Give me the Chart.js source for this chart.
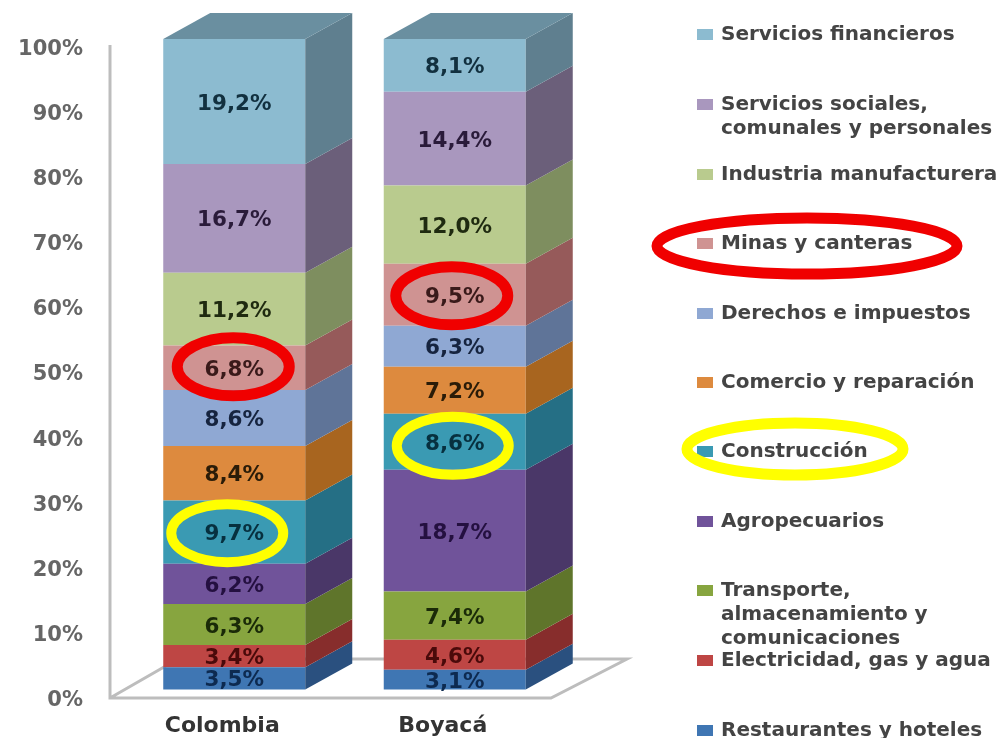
<!DOCTYPE html>
<html>
<head>
<meta charset="utf-8">
<title>Colombia y Boyacá</title>
<script src="https://cdn.jsdelivr.net/npm/chart.js@4"></script>
<style>
    html, body { margin: 0; padding: 0; background: #fff; }
    canvas { display: block; filter: blur(0.7px); }
</style>
</head>
<body>
<canvas id="myChart" width="1000" height="738"></canvas>
<script>
// Data, bottom of the stack first
const categories = ['Colombia', 'Boyacá'];
const seriesNames = ['Restaurantes y hoteles', 'Electricidad, gas y agua', 'Transporte, almacenamiento y comunicaciones',
    'Agropecuarios', 'Construcción', 'Comercio y reparación', 'Derechos e impuestos', 'Minas y canteras',
    'Industria manufacturera', 'Servicios sociales, comunales y personales', 'Servicios financieros'];
const colombiaValues = [3.5, 3.4, 6.3, 6.2, 9.7, 8.4, 8.6, 6.8, 11.2, 16.7, 19.2];
const boyacaValues = [3.1, 4.6, 7.4, 18.7, 8.6, 7.2, 6.3, 9.5, 12.0, 14.4, 8.1];
const yTickLabels = ['0%', '10%', '20%', '30%', '40%', '50%', '60%', '70%', '80%', '90%', '100%'];

// Colours per series
const frontColors = ['#3F76B3', '#BE4644', '#87A53F', '#70539A', '#3A9AB3', '#DD8A3E', '#8FA8D3', '#CF9392', '#B9CB8E', '#A997BE', '#8CBBD0'];
const sideColors = ['#2A507F', '#872D2C', '#5F752B', '#4A3768', '#256F85', '#A8651F', '#5F7498', '#965A5A', '#7E8E5F', '#6B5F7A', '#5F7F8F'];
const textColors = ['#0D2A50', '#4A0A0A', '#1A2A08', '#241040', '#07303F', '#2A1C08', '#16243F', '#3A1A1A', '#1F2A10', '#2A1B3A', '#12303F'];
const topColor = '#6A8FA0';

// Legend, top to bottom, one list of lines per entry
const legendLines = [
    ['Servicios financieros'],
    ['Servicios sociales,', 'comunales y personales'],
    ['Industria manufacturera'],
    ['Minas y canteras'],
    ['Derechos e impuestos'],
    ['Comercio y reparación'],
    ['Construcción'],
    ['Agropecuarios'],
    ['Transporte,', 'almacenamiento y', 'comunicaciones'],
    ['Electricidad, gas y agua'],
    ['Restaurantes y hoteles']
];
const legendTops = [34, 104, 174, 243, 313, 382, 451, 521, 590, 660, 730];

const depthX = 47;
const depthY = 26;

// Percent stack, the way the original chart fills each column to 100%
function toPercent(values) {
    const total = values.reduce((a, b) => a + b, 0);
    return values.map(v => v / total * 100);
}
const colombiaPercent = toPercent(colombiaValues);
const boyacaPercent = toPercent(boyacaValues);

function polygon(ctx, points, color) {
    ctx.beginPath();
    points.forEach((p, i) => i ? ctx.lineTo(p[0], p[1]) : ctx.moveTo(p[0], p[1]));
    ctx.closePath();
    ctx.fillStyle = color;
    ctx.fill();
}

function ellipse(ctx, x, y, rx, ry, color, width) {
    ctx.beginPath();
    ctx.ellipse(x, y, rx, ry, 0, 0, Math.PI * 2);
    ctx.strokeStyle = color;
    ctx.lineWidth = width;
    ctx.stroke();
}

// Axis line and floor of the 3D box, behind the bars
const floorPlugin = {
    id: 'floor',
    beforeDatasetsDraw(chart) {
        const ctx = chart.ctx;
        const y = chart.scales.y;
        const bottom = y.getPixelForValue(0) + 8;
        const top = y.getPixelForValue(100) + 6;
        ctx.save();
        ctx.strokeStyle = '#BDBDBD';
        ctx.lineWidth = 3;
        ctx.beginPath();
        ctx.moveTo(110, top);
        ctx.lineTo(110, bottom);
        ctx.lineTo(551, bottom);
        ctx.lineTo(627, bottom - 39);
        ctx.lineTo(178, bottom - 39);
        ctx.lineTo(110, bottom);
        ctx.stroke();
        ctx.restore();
    }
};

// Side and top faces, value labels, ellipses and legend
const facesPlugin = {
    id: 'faces',
    afterDatasetsDraw(chart) {
        const ctx = chart.ctx;
        ctx.save();

        chart.data.datasets.forEach((ds, i) => {
            chart.getDatasetMeta(i).data.forEach(bar => {
                const right = bar.x + bar.width / 2;
                polygon(ctx, [[right, bar.base], [right + depthX, bar.base - depthY],
                    [right + depthX, bar.y - depthY], [right, bar.y]], sideColors[i]);
            });
        });

        const last = chart.data.datasets.length - 1;
        chart.getDatasetMeta(last).data.forEach(bar => {
            const left = bar.x - bar.width / 2;
            const right = bar.x + bar.width / 2;
            polygon(ctx, [[left, bar.y], [left + depthX, bar.y - depthY],
                [right + depthX, bar.y - depthY], [right, bar.y]], topColor);
        });

        ctx.font = 'bold 21.5px "DejaVu Sans"';
        ctx.textAlign = 'center';
        ctx.textBaseline = 'middle';
        [colombiaValues, boyacaValues].forEach((values, c) => {
            values.forEach((v, i) => {
                const bar = chart.getDatasetMeta(i).data[c];
                ctx.fillStyle = textColors[i];
                ctx.fillText(v.toFixed(1).replace('.', ',') + '%', bar.x, (bar.y + bar.base) / 2 + 2.5);
            });
        });

        // Highlighted rings on the bars
        const minas = chart.getDatasetMeta(seriesNames.indexOf('Minas y canteras')).data;
        const constr = chart.getDatasetMeta(seriesNames.indexOf('Construcción')).data;
        ellipse(ctx, minas[0].x - 1, (minas[0].y + minas[0].base) / 2 - 1, 56, 29, '#F00000', 11);
        ellipse(ctx, minas[1].x - 3, (minas[1].y + minas[1].base) / 2 + 1, 56, 29, '#F00000', 11);
        ellipse(ctx, constr[0].x - 7, (constr[0].y + constr[0].base) / 2 + 1, 56, 29, '#FFFF00', 10);
        ellipse(ctx, constr[1].x - 2, (constr[1].y + constr[1].base) / 2 + 4, 56, 29, '#FFFF00', 10);

        // Legend
        ctx.font = 'bold 20px "DejaVu Sans"';
        ctx.textAlign = 'left';
        legendLines.forEach((lines, i) => {
            const series = seriesNames.length - 1 - i;
            ctx.fillStyle = frontColors[series];
            ctx.fillRect(697, legendTops[i] - 5, 16, 11);
            ctx.fillStyle = '#444';
            lines.forEach((line, n) => ctx.fillText(line, 721, legendTops[i] + 1 + n * 24));
        });
        ellipse(ctx, 807, 246, 150, 28, '#F00000', 11);
        ellipse(ctx, 795, 449, 108, 26, '#FFFF00', 11);

        ctx.restore();
    }
};

function init() {
    const ctx = document.getElementById('myChart').getContext('2d');
    new Chart(ctx, {
        type: 'bar',
        data: {
            labels: categories,
            datasets: seriesNames.map((name, i) => ({
                label: name,
                data: [colombiaPercent[i], boyacaPercent[i]],
                backgroundColor: frontColors[i],
                borderWidth: 0
            }))
        },
        options: {
            responsive: false,
            animation: false,
            layout: { padding: { top: 39, right: 435 } },
            categoryPercentage: 1,
            barPercentage: 0.644,
            plugins: { legend: { display: false }, tooltip: { enabled: false } },
            scales: {
                x: {
                    stacked: true,
                    afterFit: scale => { scale.height = 48; },
                    grid: { display: false },
                    border: { display: false },
                    ticks: { padding: 15, labelOffset: -12, color: '#333', font: { family: 'DejaVu Sans', size: 22, weight: 'bold' } }
                },
                y: {
                    stacked: true,
                    min: 0,
                    max: 100,
                    afterFit: scale => { scale.width = 124; },
                    // long invisible tick marks keep the labels away from the bars
                    grid: { drawOnChartArea: false, tickLength: 40, tickColor: 'transparent' },
                    border: { display: false },
                    ticks: {
                        stepSize: 10,
                        padding: 1,
                        labelOffset: 10.5,
                        color: '#666',
                        font: { family: 'DejaVu Sans', size: 21, weight: 'bold' },
                        callback: (value, index) => yTickLabels[index]
                    }
                }
            }
        },
        plugins: [floorPlugin, facesPlugin]
    });
}

document.addEventListener('DOMContentLoaded', init);
</script>
</body>
</html>
